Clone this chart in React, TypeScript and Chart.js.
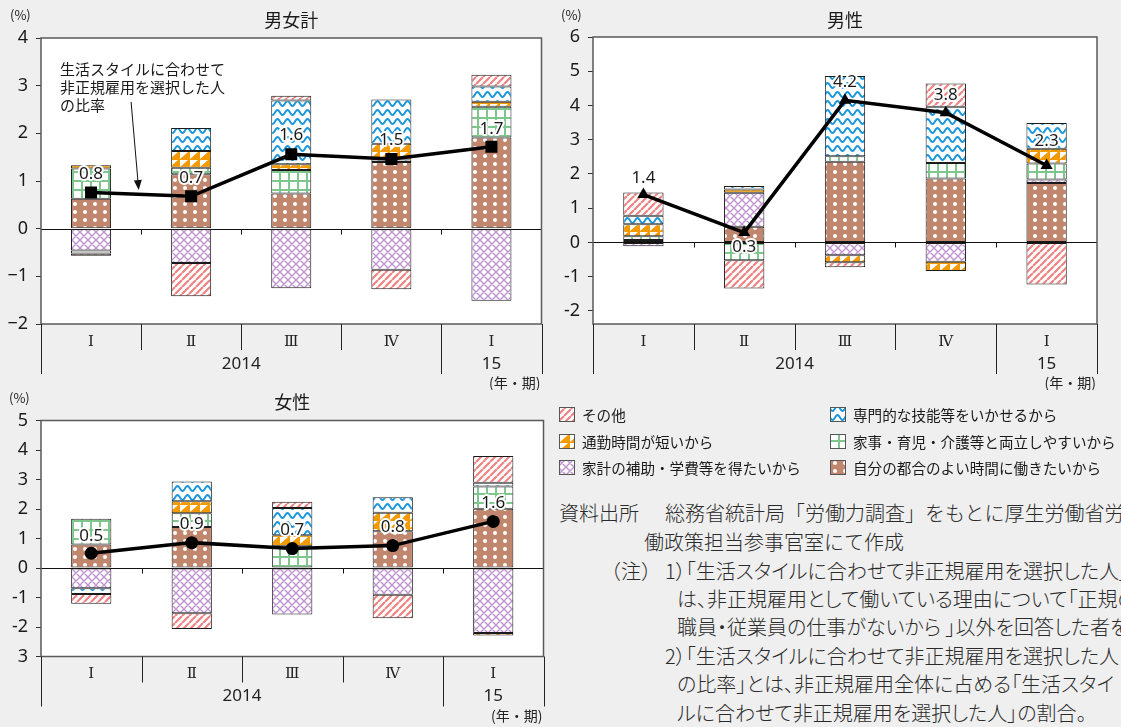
import React, { useEffect, useRef } from 'react';
import { Chart, registerables } from 'chart.js';

Chart.register(...registerables);

// ---------- data ----------
const quarterLabels = ['Ⅰ', 'Ⅱ', 'Ⅲ', 'Ⅳ', 'Ⅰ'];
const yearLabels = ['2014', '2014', '2014', '2014', '15'];

const seriesNames = [
  '自分の都合のよい時間に働きたいから',
  '家計の補助・学費等を得たいから',
  '家事・育児・介護等と両立しやすいから',
  '通勤時間が短いから',
  '専門的な技能等をいかせるから',
  'その他',
];
const lineName = '生活スタイルに合わせて非正規雇用を選択した人の比率';

// 男女計
const totalOwnTime = [0.63, 1.14, 0.74, 1.4, 1.91];
const totalHousehold = [-0.46, -0.72, -1.25, -0.86, -1.51];
const totalFamily = [0.63, 0.14, 0.49, 0.05, 0.65];
const totalCommute = [0.07, 0.35, 0.12, 0.33, 0.1];
const totalSkill = [-0.06, 0.48, 1.34, 0.93, 0.32];
const totalOther = [-0.05, -0.7, 0.1, -0.41, 0.25];
const totalRatio = [0.76, 0.68, 1.56, 1.46, 1.72];

// 男性
const maleOwnTime = [0.07, 0.46, 2.36, 1.87, 1.74];
const maleHousehold = [-0.11, 0.99, -0.37, -0.56, 0.1];
const maleFamily = [0.11, -0.52, 0.16, 0.45, 0.47];
const maleCommute = [0.35, 0.1, -0.21, -0.27, 0.43];
const maleSkill = [0.25, 0.1, 2.34, 1.64, 0.75];
const maleOther = [0.68, -0.82, -0.14, 0.68, -1.23];
const maleRatio = [1.4, 0.29, 4.15, 3.79, 2.25];

// 女性
const femaleOwnTime = [0.8, 1.39, 0, 1.25, 2.01];
const femaleHousehold = [-0.69, -1.53, -1.58, -0.91, -2.2];
const femaleFamily = [0.87, 0.47, 0.74, 0, 0.75];
const femaleCommute = [0, 0.4, 0.37, 0.62, -0.09];
const femaleSkill = [-0.19, 0.67, 0.92, 0.53, 0.13];
const femaleOther = [-0.33, -0.54, 0.22, -0.79, 0.91];
const femaleRatio = [0.5, 0.86, 0.66, 0.76, 1.58];

// ---------- styles ----------
const JP = '"Noto Sans CJK JP", "Noto Sans", sans-serif';
const NUM = '"Noto Sans", "DejaVu Sans", sans-serif';
const ROMAN = '"DejaVu Serif", "Noto Sans CJK JP", serif';
const PAGE_BG = '#efefef';
const patternKinds = ['dots', 'cross', 'grid', 'tri', 'wave', 'stripe'];

function makePattern(kind: string): CanvasPattern {
  const c = document.createElement('canvas');
  const g = c.getContext('2d') as CanvasRenderingContext2D;
  if (kind === 'dots') {
    c.width = 10; c.height = 8;
    g.fillStyle = '#c0876e'; g.fillRect(0, 0, 10, 8);
    g.fillStyle = '#ffffff'; g.beginPath(); g.arc(5, 4, 2, 0, Math.PI * 2); g.fill();
  } else if (kind === 'cross') {
    c.width = 8; c.height = 8;
    g.fillStyle = '#ffffff'; g.fillRect(0, 0, 8, 8);
    g.strokeStyle = '#bf94d0'; g.lineWidth = 1.4;
    g.beginPath();
    for (const k of [-1, 0, 1]) {
      g.moveTo(k * 8, 0); g.lineTo(k * 8 + 8, 8);
      g.moveTo(k * 8, 8); g.lineTo(k * 8 + 8, 0);
    }
    g.stroke();
  } else if (kind === 'grid') {
    c.width = 9; c.height = 9;
    g.fillStyle = '#ffffff'; g.fillRect(0, 0, 9, 9);
    g.fillStyle = '#7fc68c'; g.fillRect(0, 0, 9, 2); g.fillRect(0, 0, 2, 9);
  } else if (kind === 'tri') {
    c.width = 10; c.height = 8;
    g.fillStyle = '#f39a00'; g.fillRect(0, 0, 10, 8);
    g.fillStyle = '#ffffff'; g.beginPath(); g.moveTo(0, 0); g.lineTo(8, 0); g.lineTo(0, 7); g.closePath(); g.fill();
  } else if (kind === 'wave') {
    c.width = 10; c.height = 9;
    g.fillStyle = '#ffffff'; g.fillRect(0, 0, 10, 9);
    g.strokeStyle = '#1a96dc'; g.lineWidth = 2;
    g.beginPath();
    for (let x = -1; x <= 11; x += 0.5) {
      const y = 4.5 + 2.5 * Math.sin((2 * Math.PI * x) / 10);
      if (x === -1) g.moveTo(x, y); else g.lineTo(x, y);
    }
    g.stroke();
  } else {
    c.width = 7; c.height = 7;
    g.fillStyle = '#ffffff'; g.fillRect(0, 0, 7, 7);
    g.strokeStyle = '#ef8383'; g.lineWidth = 2.2;
    g.beginPath();
    for (const k of [-1, 0, 1]) { g.moveTo(k * 7, 7); g.lineTo(k * 7 + 7, 0); }
    g.stroke();
  }
  return g.createPattern(c, 'repeat') as CanvasPattern;
}

type PanelCfg = {
  title: string;
  left: number; top: number; width: number; height: number;
  yMin: number; yMax: number; yAxisWidth: number;
  padding: { top: number; right: number; bottom: number; left: number };
  series: number[][];
  ratio: number[];
  pointStyle: string; pointRadius: number;
  labelDy: number[];
  tickFmt: (v: number) => string;
  pct: [number, number];
  titleY: number;
  annotation?: boolean;
};

const panels: PanelCfg[] = [
  {
    title: '男女計', left: 0, top: 0, width: 550, height: 390,
    yMin: -2, yMax: 4, yAxisWidth: 41,
    padding: { top: 38, right: 6, bottom: 66, left: 0 },
    series: [totalOwnTime, totalHousehold, totalFamily, totalCommute, totalSkill, totalOther],
    ratio: totalRatio, pointStyle: 'rect', pointRadius: 8.5,
    labelDy: [-18, -18, -19, -19, -18],
    tickFmt: (v) => String(v).replace('-', '−'),
    pct: [10, 15], titleY: 20, annotation: true,
  },
  {
    title: '男性', left: 550, top: 0, width: 571, height: 390,
    yMin: -2.38, yMax: 6, yAxisWidth: 43,
    padding: { top: 37, right: 24, bottom: 66, left: 0 },
    series: [maleOwnTime, maleHousehold, maleFamily, maleCommute, maleSkill, maleOther],
    ratio: maleRatio, pointStyle: 'triangle', pointRadius: 7,
    labelDy: [-16, 15, -18, -18, -24],
    tickFmt: (v) => String(v),
    pct: [11, 15], titleY: 20,
  },
  {
    title: '女性', left: 0, top: 385, width: 550, height: 342,
    yMin: -3, yMax: 5, yAxisWidth: 41,
    padding: { top: 35.5, right: 6, bottom: 70.5, left: 0 },
    series: [femaleOwnTime, femaleHousehold, femaleFamily, femaleCommute, femaleSkill, femaleOther],
    ratio: femaleRatio, pointStyle: 'circle', pointRadius: 6.5,
    labelDy: [-17, -18, -18, -18, -18],
    tickFmt: (v) => (v === -3 ? '3' : String(v)),
    pct: [9, 13], titleY: 17,
  },
];

function makePlugin(cfg: PanelCfg) {
  return {
    id: 'panelDecor',
    beforeDraw(chart: any) {
      const { ctx, chartArea: a } = chart;
      ctx.save();
      ctx.fillStyle = '#ffffff';
      ctx.fillRect(a.left, a.top, a.right - a.left, a.bottom - a.top);
      ctx.restore();
    },
    beforeDatasetsDraw(chart: any) {
      const { ctx, chartArea: a, scales } = chart;
      const y0 = Math.round(scales.y.getPixelForValue(0)) + 0.5;
      ctx.save();
      ctx.strokeStyle = '#111';
      ctx.lineWidth = 1;
      ctx.beginPath();
      ctx.moveTo(a.left, y0); ctx.lineTo(a.right, y0);
      for (let i = 1; i < quarterLabels.length; i++) {
        const bx = Math.round((scales.x.getPixelForValue(i - 1) + scales.x.getPixelForValue(i)) / 2) + 0.5;
        ctx.moveTo(bx, y0); ctx.lineTo(bx, y0 + 5);
      }
      ctx.stroke();
      ctx.restore();
    },
    afterDraw(chart: any) {
      const { ctx, chartArea: a, scales } = chart;
      const xs = scales.x; const ys = scales.y;
      const n = quarterLabels.length;
      ctx.save();
      ctx.strokeStyle = '#5a5a5a';
      ctx.lineWidth = 1.5;
      ctx.strokeRect(a.left, a.top, a.right - a.left, a.bottom - a.top);

      const bounds: number[] = [];
      for (let i = 0; i <= n; i++) {
        if (i === 0) bounds.push(a.left);
        else if (i === n) bounds.push(a.right);
        else bounds.push((xs.getPixelForValue(i - 1) + xs.getPixelForValue(i)) / 2);
      }
      ctx.strokeStyle = '#222';
      ctx.lineWidth = 1;
      ctx.beginPath();
      bounds.forEach((bx, i) => {
        const long = i === 0 || i === n || yearLabels[i] !== yearLabels[i - 1];
        const x = Math.round(bx) + 0.5;
        ctx.moveTo(x, a.bottom);
        ctx.lineTo(x, a.bottom + (long ? 50 : 26));
      });
      ctx.stroke();

      ctx.fillStyle = '#222';
      ctx.textAlign = 'center';
      ctx.textBaseline = 'middle';
      ctx.font = `15px ${ROMAN}`;
      quarterLabels.forEach((q, i) => ctx.fillText(q, xs.getPixelForValue(i), a.bottom + 18));
      ctx.font = `17px ${NUM}`;
      let s = 0;
      for (let i = 1; i <= n; i++) {
        if (i === n || yearLabels[i] !== yearLabels[s]) {
          const cx = (xs.getPixelForValue(s) + xs.getPixelForValue(i - 1)) / 2;
          ctx.fillText(yearLabels[s], cx, a.bottom + 40);
          s = i;
        }
      }
      ctx.font = `14px ${JP}`;
      ctx.textAlign = 'right';
      ctx.fillText('(年・期)', a.right - 1, a.bottom + 59);

      ctx.textAlign = 'center';
      ctx.font = `18px ${JP}`;
      ctx.fillStyle = '#1a1a1a';
      ctx.fillText(cfg.title, (a.left + a.right) / 2, cfg.titleY);
      ctx.textAlign = 'left';
      ctx.font = `13px ${JP}`;
      ctx.fillText('(%)', cfg.pct[0], cfg.pct[1]);

      if (cfg.annotation) {
        ctx.font = `15px ${JP}`;
        ctx.fillStyle = '#1a1a1a';
        ctx.textAlign = 'left';
        const tx = xs.getPixelForValue(-0.31);
        const ty = ys.getPixelForValue(3.35);
        ['生活スタイルに合わせて', '非正規雇用を選択した人', 'の比率'].forEach((t, i) => ctx.fillText(t, tx, ty + i * 18));
        const x1 = xs.getPixelForValue(0.4), y1 = ys.getPixelForValue(2.66);
        const x2 = xs.getPixelForValue(0.476), y2 = ys.getPixelForValue(0.81);
        const ang = Math.atan2(y2 - y1, x2 - x1);
        ctx.strokeStyle = '#111';
        ctx.lineWidth = 1;
        ctx.beginPath(); ctx.moveTo(x1, y1);
        ctx.lineTo(x2 - 9 * Math.cos(ang), y2 - 9 * Math.sin(ang));
        ctx.stroke();
        ctx.fillStyle = '#111';
        ctx.beginPath();
        ctx.moveTo(x2, y2);
        ctx.lineTo(x2 - 10 * Math.cos(ang) + 4 * Math.sin(ang), y2 - 10 * Math.sin(ang) - 4 * Math.cos(ang));
        ctx.lineTo(x2 - 10 * Math.cos(ang) - 4 * Math.sin(ang), y2 - 10 * Math.sin(ang) + 4 * Math.cos(ang));
        ctx.closePath(); ctx.fill();
      }

      const meta = chart.getDatasetMeta(chart.data.datasets.length - 1);
      ctx.font = `17px ${NUM}`;
      ctx.textAlign = 'center';
      ctx.textBaseline = 'middle';
      ctx.lineJoin = 'round';
      meta.data.forEach((pt: any, i: number) => {
        const txt = cfg.ratio[i].toFixed(1);
        const y = pt.y + cfg.labelDy[i];
        ctx.strokeStyle = '#ffffff';
        ctx.lineWidth = 4;
        ctx.strokeText(txt, pt.x, y);
        ctx.fillStyle = '#1a1a1a';
        ctx.fillText(txt, pt.x, y);
      });
      ctx.restore();
    },
  };
}

function Panel({ cfg }: { cfg: PanelCfg }) {
  const ref = useRef<HTMLCanvasElement | null>(null);
  useEffect(() => {
    if (!ref.current) return;
    const patterns = patternKinds.map(makePattern);
    const datasets: any[] = seriesNames.map((name, i) => ({
      type: 'bar',
      label: name,
      data: cfg.series[i],
      backgroundColor: patterns[i],
      borderColor: '#1a1a1a',
      borderWidth: 1,
      borderSkipped: false,
      stack: 'reasons',
      order: 2,
      barPercentage: 0.4,
      categoryPercentage: 1.0,
    }));
    datasets.push({
      type: 'line',
      label: lineName,
      data: cfg.ratio,
      borderColor: '#000',
      borderWidth: 3.5,
      pointStyle: cfg.pointStyle,
      pointRadius: cfg.pointRadius,
      pointBackgroundColor: '#000',
      pointBorderColor: '#000',
      pointBorderWidth: 0,
      stack: 'ratio',
      order: 0,
      tension: 0,
    });
    const chart = new Chart(ref.current, {
      type: 'bar',
      data: { labels: quarterLabels, datasets },
      options: {
        responsive: false,
        animation: false,
        devicePixelRatio: 1,
        layout: { padding: cfg.padding },
        plugins: { legend: { display: false }, tooltip: { enabled: false } },
        scales: {
          x: { type: 'category', display: false, stacked: true, offset: true },
          y: {
            stacked: true,
            min: cfg.yMin,
            max: cfg.yMax,
            afterFit: (s: any) => { s.width = cfg.yAxisWidth; },
            grid: { drawOnChartArea: false, drawTicks: true, tickLength: 5, color: '#333' },
            border: { display: false },
            ticks: {
              stepSize: 1,
              includeBounds: false,
              color: '#1a1a1a',
              padding: 8,
              font: { family: NUM, size: 18 },
              callback: (v: any) => cfg.tickFmt(Number(v)),
            },
          },
        },
      } as any,
      plugins: [makePlugin(cfg)],
    } as any);
    return () => chart.destroy();
  }, [cfg]);
  return (
    <canvas
      ref={ref}
      width={cfg.width}
      height={cfg.height}
      style={{ position: 'absolute', left: cfg.left, top: cfg.top, width: cfg.width, height: cfg.height }}
    />
  );
}

const legendColumns = [[5, 3, 1], [4, 2, 0]];

function Legend() {
  const ref = useRef<HTMLCanvasElement | null>(null);
  useEffect(() => {
    const c = ref.current;
    if (!c) return;
    const ctx = c.getContext('2d') as CanvasRenderingContext2D;
    const patterns = patternKinds.map(makePattern);
    ctx.clearRect(0, 0, c.width, c.height);
    const colX = [9, 280];
    const rowY = [19, 46, 72];
    legendColumns.forEach((col, ci) => {
      col.forEach((si, ri) => {
        const x = colX[ci];
        const y = rowY[ri];
        ctx.fillStyle = patterns[si];
        ctx.fillRect(x, y - 7, 16, 15);
        ctx.strokeStyle = '#555';
        ctx.lineWidth = 1;
        ctx.strokeRect(x + 0.5, y - 6.5, 15, 14);
        ctx.fillStyle = '#1a1a1a';
        ctx.font = `14.6px ${JP}`;
        ctx.textBaseline = 'middle';
        ctx.fillText(seriesNames[si], x + 23, y + 1);
      });
    });
  }, []);
  return <canvas ref={ref} width={571} height={90} style={{ position: 'absolute', left: 550, top: 395 }} />;
}

const noteLines: { x: number; y: number; text: string; palt?: boolean }[] = [
  { x: 559, y: 513, text: '資料出所' },
  { x: 665, y: 513, text: '総務省統計局「労働力調査」をもとに厚生労働省労' },
  { x: 644, y: 542, text: '働政策担当参事官室にて作成' },
  { x: 601, y: 571, text: '（注）' },
  { x: 665, y: 571, text: '1）「生活スタイルに合わせて非正規雇用を選択した人」と', palt: true },
  { x: 677, y: 599, text: 'は、非正規雇用として働いている理由について「正規の', palt: true },
  { x: 677, y: 627, text: '職員・従業員の仕事がないから 」以外を回答した者をいう。', palt: true },
  { x: 665, y: 656, text: '2）「生活スタイルに合わせて非正規雇用を選択した人', palt: true },
  { x: 677, y: 684, text: 'の比率」とは、非正規雇用全体に占める「生活スタイ', palt: true },
  { x: 677, y: 713, text: 'ルに合わせて非正規雇用を選択した人」の割合。', palt: true },
];

export default function App() {
  return (
    <div
      style={{
        position: 'fixed', left: 0, top: 0, width: 1121, height: 727,
        background: PAGE_BG, overflow: 'hidden',
      }}
    >
      {panels.map((p) => <Panel key={p.title} cfg={p} />)}
      <Legend />
      {noteLines.map((l, i) => (
        <div
          key={i}
          style={{
            position: 'absolute', left: l.x, top: l.y - 12, whiteSpace: 'nowrap',
            fontFamily: JP, fontSize: 20, lineHeight: '24px', color: '#2a2a2a',
            fontWeight: 300,
            fontFeatureSettings: l.palt ? '"palt"' : 'normal',
          }}
        >
          {l.text}
        </div>
      ))}
    </div>
  );
}
